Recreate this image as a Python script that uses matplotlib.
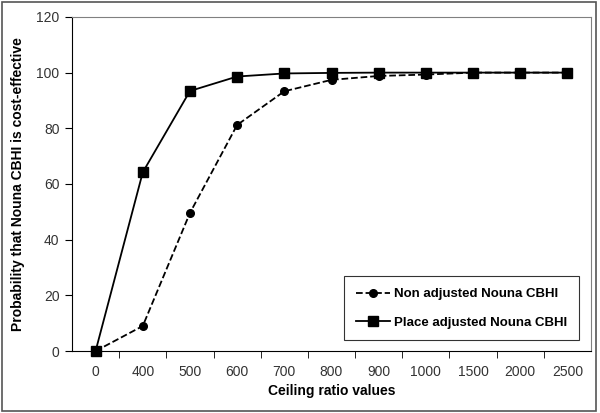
import matplotlib.pyplot as plt
from matplotlib.patches import Rectangle
import numpy as np

plt.rcParams['font.family'] = ['Liberation Sans', 'DejaVu Sans']

ceiling = ['0', '400', '500', '600', '700', '800', '900', '1000', '1500', '2000', '2500']
non_adjusted = [0, 9.0, 49.6, 81.2, 93.3, 97.4, 98.8, 99.3, 100, 100, 100]
place_adjusted = [0, 64.2, 93.4, 98.6, 99.7, 99.9, 100, 100, 100, 100, 100]

fig = plt.figure(figsize=(6, 4.13), dpi=100)
ax = fig.add_axes([0.12, 0.150, 0.865, 0.809])

x = np.arange(len(ceiling))
ax.plot(x, non_adjusted, color='black', linestyle='--', lw=1.3, marker='o',
        markersize=5.5, label='Non adjusted Nouna CBHI', clip_on=False, zorder=3)
ax.plot(x, place_adjusted, color='black', linestyle='-', lw=1.3, marker='s',
        markersize=7, label='Place adjusted Nouna CBHI', clip_on=False, zorder=4)

ax.set_xlim(-0.5, len(ceiling) - 0.5)
ax.set_ylim(0, 120)
ax.set_yticks(range(0, 121, 20))
ax.set_xticks(x)
ax.set_xticklabels(ceiling)
ax.set_xticks(np.arange(0.5, len(ceiling) - 0.5, 1), minor=True)
ax.tick_params(axis='x', which='major', length=0, pad=10, labelsize=10)
ax.tick_params(axis='x', which='minor', length=5, direction='out', color='black')
ax.tick_params(axis='y', length=5, direction='out', labelsize=10, pad=4)
for t in ax.get_xticklabels() + ax.get_yticklabels():
    t.set_color('#333333')

ax.spines['top'].set_color('#808080')
ax.spines['right'].set_color('#808080')
ax.spines['left'].set_color('black')
ax.spines['bottom'].set_color('black')

ax.set_xlabel('Ceiling ratio values', fontweight='bold', fontsize=10, labelpad=4)
ax.set_ylabel('Probability that Nouna CBHI is cost-effective', fontweight='bold',
              fontsize=10, labelpad=8)

leg = ax.legend(loc='lower right', bbox_to_anchor=(0.985, 0.02),
                frameon=True, fancybox=False, edgecolor='black', labelspacing=1.2,
                handlelength=2.6, handletextpad=0.3, borderpad=0.9,
                borderaxespad=0.3, prop={'weight': 'bold', 'size': 9.5})
leg.get_frame().set_linewidth(0.8)

fig.patches.append(Rectangle((0.004, 0.006), 0.99, 0.988, transform=fig.transFigure,
                             fill=False, edgecolor='#555555', lw=1.2))

fig.savefig('out.png', dpi=100)
